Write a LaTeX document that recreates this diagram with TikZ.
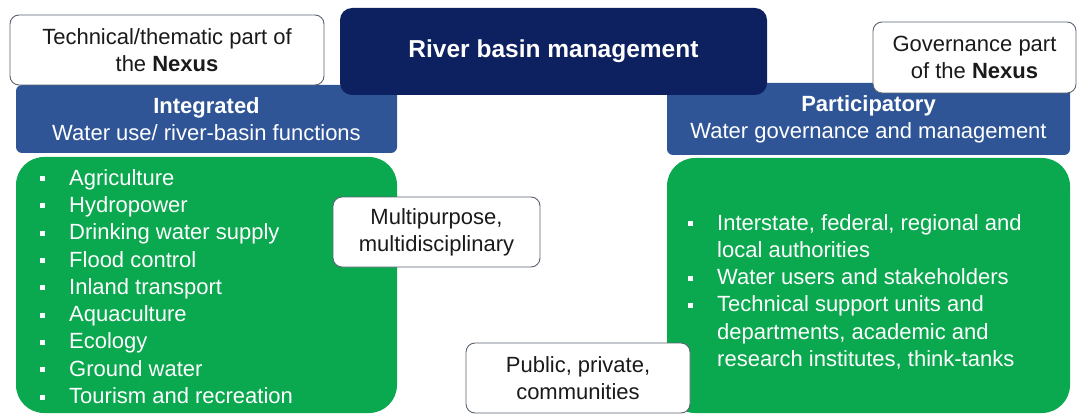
\documentclass[tikz,border=0pt]{standalone}
\usepackage{fontspec}
\setmainfont{Liberation Sans}
\usepackage{tikz}
\definecolor{navy}{HTML}{0D2160}
\definecolor{midblue}{HTML}{2F5597}
\definecolor{leafgreen}{HTML}{0AA84F}
\definecolor{edgegray}{HTML}{5A6470}
\definecolor{inkblack}{HTML}{1A1A1A}
\newcommand{\sqitem}{\makebox[29pt][l]{\rule[4pt]{5pt}{5pt}}}
\newcommand{\sqgap}{\hspace*{29pt}}

\begin{document}
\begin{tikzpicture}[x=1pt, y=-1pt,
  every node/.style={font=\fontsize{22}{27.3}\selectfont, inner sep=0pt},
  notebox/.style={draw=edgegray, line width=0.9pt, fill=white, text=inkblack,
    rounded corners=9pt, align=center},
  bandbox/.style={fill=midblue, text=white, rounded corners=6pt, align=center},
  listbox/.style={fill=leafgreen, rounded corners=28pt}]
  \useasboundingbox (0,0) rectangle (1078,414);
  % blue bands
  \node[bandbox, minimum width=381pt, minimum height=68pt] (integ) at (206.5,119)
    {\textbf{Integrated}\\Water use/ river-basin functions};
  \node[bandbox, minimum width=403pt, minimum height=72pt] (partic) at (868.5,119)
    {\textbf{Participatory}\\Water governance and management};
  % nexus notes
  \node[notebox, minimum width=314pt, minimum height=70pt] (tech) at (167,50)
    {Technical/thematic part of\\the \textbf{Nexus}};
  \node[notebox, minimum width=203pt, minimum height=71pt] (gov) at (974.5,57.5)
    {Governance part\\of the \textbf{Nexus}};
  % title
  \node[fill=navy, text=white, rounded corners=12pt, minimum width=427pt,
    minimum height=87pt, font=\fontsize{24.5}{28}\selectfont\bfseries] (rbm) at (553.5,51.5)
    {River basin management};
  % green panels
  \node[listbox, minimum width=381pt, minimum height=256pt] (funcs) at (206.5,285) {};
  \node[listbox, minimum width=403pt, minimum height=255pt] (actors) at (868.5,285.5) {};
  % lists (anchored at the last baseline)
  \node[anchor=base west, text=white, align=left] (funclist) at (40,403.5)
    {\sqitem Agriculture\\ \sqitem Hydropower\\ \sqitem Drinking water supply\\
     \sqitem Flood control\\ \sqitem Inland transport\\ \sqitem Aquaculture\\
     \sqitem Ecology\\ \sqitem Ground water\\ \sqitem Tourism and recreation};
  \node[anchor=base west, text=white, align=left] (actorlist) at (688,366.5)
    {\sqitem Interstate, federal, regional and\\ \sqgap local authorities\\
     \sqitem Water users and stakeholders\\ \sqitem Technical support units and\\
     \sqgap departments, academic and\\ \sqgap research institutes, think-tanks};
  % side notes
  \node[notebox, minimum width=207pt, minimum height=70pt] (multi) at (436.5,232)
    {Multipurpose,\\multidisciplinary};
  \node[notebox, minimum width=224pt, minimum height=70pt] (pub) at (578,378)
    {Public, private,\\communities};
\end{tikzpicture}
\end{document}
